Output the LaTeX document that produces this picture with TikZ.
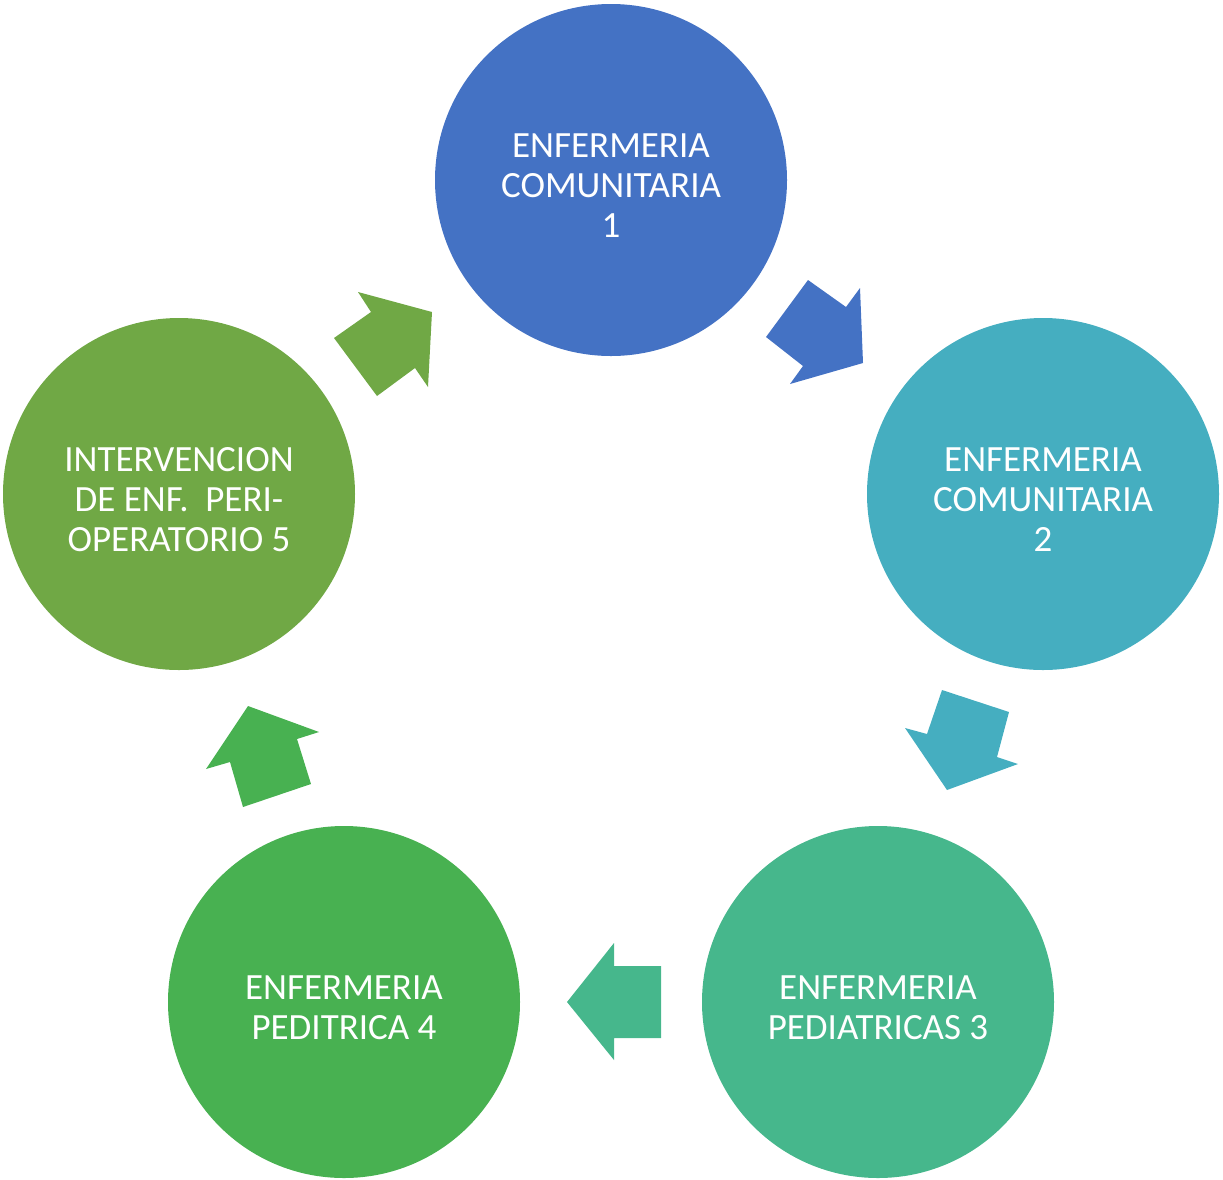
\documentclass[tikz,border=0pt]{standalone}
\usepackage{fontspec}
\setmainfont{Carlito}
\definecolor{cA}{HTML}{4472C4}
\definecolor{cB}{HTML}{45AEC0}
\definecolor{cC}{HTML}{46B78C}
\definecolor{cD}{HTML}{48B151}
\definecolor{cE}{HTML}{70A845}
\tikzset{
  stage/.style={circle, draw=none, minimum size=352pt, inner sep=0pt, text=white, align=center,
    font=\fontsize{37}{40}\selectfont},
  stagetext/.style={text=white, align=center, font=\fontsize{37}{40}\selectfont, inner sep=0pt},
  blockarrow/.style={draw=none}
}
\begin{document}
\begin{tikzpicture}[x=1pt,y=-1pt]
\useasboundingbox (0,0) rectangle (1223,1179);
\node[stage, fill=cA] (s1) at (611,180) {};
\node[stage, fill=cB] (s2) at (1043,494) {};
\node[stage, fill=cC] (s3) at (878,1002) {};
\node[stage, fill=cD] (s4) at (344,1002) {};
\node[stage, fill=cE] (s5) at (179,494) {};
\node[stagetext, yshift=-6pt] (t1) at (s1) {ENFERMERIA\\COMUNITARIA\\1};
\node[stagetext, yshift=-6pt] (t2) at (s2) {ENFERMERIA\\COMUNITARIA\\2};
\node[stagetext, yshift=-6pt] (t3) at (s3) {ENFERMERIA\\PEDIATRICAS 3};
\node[stagetext, yshift=-6pt] (t4) at (s4) {ENFERMERIA\\PEDITRICA 4};
\node[stagetext, yshift=-6pt] (t5) at (s5) {INTERVENCION\\DE ENF.~~PERI-\\OPERATORIO 5};
% block arrows
\fill[blockarrow, cA] (808,280) -- (846,307) -- (860,288) -- (863,363) -- (790,384) -- (803,366) -- (766,337) -- cycle;
\fill[blockarrow, cB] (942,690) -- (1009,712) -- (997,757) -- (1018,764) -- (947,790) -- (905,728) -- (927,734) -- cycle;
\fill[blockarrow, cC] (614,943) -- (614,966) -- (661,966) -- (661,1038) -- (614,1038) -- (614,1060) -- (567,1002) -- cycle;
\fill[blockarrow, cD] (248,706) -- (319,732) -- (297,739) -- (311,784) -- (243,807) -- (230,762) -- (206,769) -- cycle;
\fill[blockarrow, cE] (358,292) -- (432,312) -- (428,387) -- (415,368) -- (377,396) -- (334,338) -- (371,312) -- cycle;
\end{tikzpicture}
\end{document}
